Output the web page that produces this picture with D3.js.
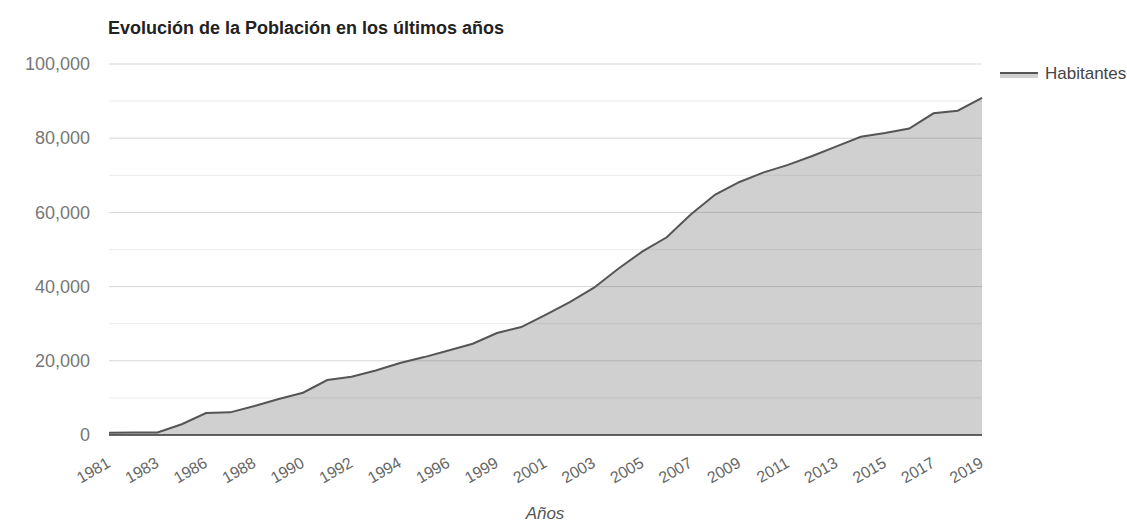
<!DOCTYPE html>
<html><head><meta charset="utf-8">
<script src="https://cdn.jsdelivr.net/npm/d3@7/dist/d3.min.js"></script>
<style>body{margin:0;background:#fff;font-family:"Liberation Sans",Arial,sans-serif;}</style>
</head><body><svg id="c" width="1127" height="522"></svg>
<script>
const years = ["1981","1982","1983","1985","1986","1987","1988","1989","1990","1991","1992","1993","1994","1995","1996","1998","1999","2000","2001","2002","2003","2004","2005","2006","2007","2008","2009","2010","2011","2012","2013","2014","2015","2016","2017","2018","2019"];
const habitantes = [600,650,700,2900,5900,6100,7800,9700,11400,14800,15700,17400,19400,21000,22800,24600,27500,29100,32400,35800,39700,44800,49500,53300,59500,64800,68200,70800,72800,75200,77800,80400,81400,82600,86700,87400,90900];
const yTicks = [0,20000,40000,60000,80000,100000];
const title = "Evolución de la Población en los últimos años";
const seriesName = "Habitantes";
const xTitle = "Años";

const svg = d3.select("#c");
const L=109, R=982, T=64, B=435;
const x = d3.scalePoint().domain(years).range([L,R]);
const y = d3.scaleLinear().domain([0,100000]).range([B,T]);

// gridlines
const grid = svg.append("g");
grid.selectAll("line").data(d3.range(10000,100001,10000)).join("line")
  .attr("x1",L).attr("x2",R).attr("y1",d=>y(d)).attr("y2",d=>y(d))
  .attr("stroke",d=>d%20000===0?"#d6d6d6":"#ececec").attr("stroke-width",1);

// area
const data = years.map((yr,i)=>({yr,v:habitantes[i]}));
svg.append("path").datum(data)
  .attr("d",d3.area().x(d=>x(d.yr)).y0(y(0)).y1(d=>y(d.v)))
  .attr("fill","#555").attr("fill-opacity",0.28);
svg.append("path").datum(data)
  .attr("d",d3.line().x(d=>x(d.yr)).y(d=>y(d.v)))
  .attr("fill","none").attr("stroke","#555").attr("stroke-width",2);

// baseline
svg.append("line").attr("x1",L).attr("x2",R).attr("y1",y(0)).attr("y2",y(0))
  .attr("stroke","#333").attr("stroke-width",1.5);

// y labels
const ya = d3.axisLeft(y).tickValues(yTicks).tickFormat(d3.format(",")).tickSize(0).tickPadding(19);
svg.append("g").attr("transform",`translate(${L},0)`).call(ya)
  .call(g=>g.select(".domain").remove())
  .selectAll("text").attr("font-size",18).attr("fill","#777").attr("font-family","Liberation Sans, Arial, sans-serif");

// x labels
const xa = d3.axisBottom(x).tickValues(years.filter((d,i)=>i%2===0)).tickSize(0).tickPadding(0);
const gx = svg.append("g").attr("transform",`translate(0,${B})`).call(xa);
gx.select(".domain").remove();
gx.selectAll("text").attr("font-size",16).attr("fill","#666").attr("font-family","Liberation Sans, Arial, sans-serif")
  .attr("text-anchor","end").attr("x",0).attr("y",0).attr("dy",0)
  .attr("transform","translate(2,31) rotate(-30)");

// title
svg.append("text").attr("x",L-1).attr("y",34).text(title)
  .attr("font-size",18).attr("font-weight","bold").attr("fill","#222");

// x title
svg.append("text").attr("x",545).attr("y",519).attr("text-anchor","middle").text(xTitle)
  .attr("font-size",17).attr("font-style","italic").attr("fill","#555");

// legend
svg.append("line").attr("x1",1000).attr("x2",1038).attr("y1",73).attr("y2",73)
  .attr("stroke","#555").attr("stroke-width",2);
svg.append("rect").attr("x",1000).attr("y",74).attr("width",38).attr("height",4)
  .attr("fill","#555").attr("fill-opacity",0.28);
svg.append("text").attr("x",1045).attr("y",79).text(seriesName)
  .attr("font-size",17).attr("fill","#444");
</script></body></html>
